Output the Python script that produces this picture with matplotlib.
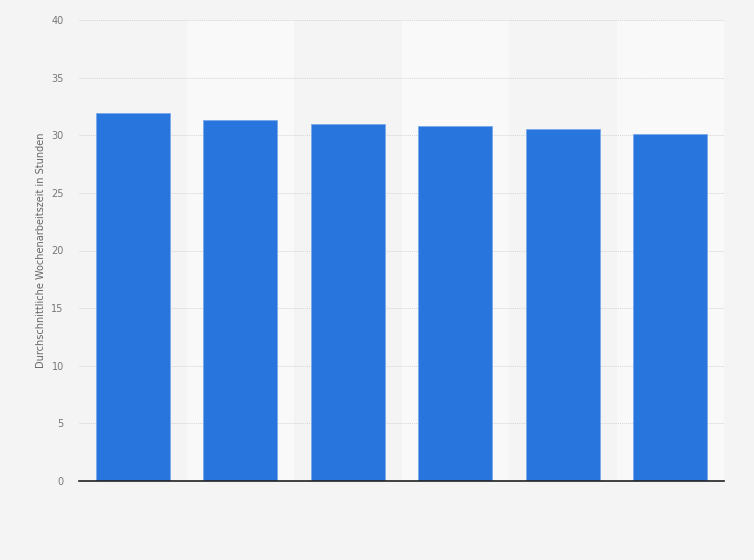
import matplotlib.pyplot as plt
import numpy as np

# Data (no category labels shown)
categories = ['1', '2', '3', '4', '5', '6']
hours = [31.9, 31.3, 31.0, 30.8, 30.5, 30.1]

BG = '#f4f4f4'
BAND = '#f9f9f9'
BAR = '#2876dd'

fig = plt.figure(figsize=(7.54, 5.6), dpi=100, facecolor=BG)
ax = fig.add_axes([79 / 754, 1 - 481 / 560, 645 / 754, 461 / 560])
ax.set_facecolor(BG)

x = np.arange(len(categories))

# Alternating column bands
for i in x:
    if i % 2 == 1:
        ax.axvspan(i - 0.5, i + 0.5, color=BAND, zorder=0, lw=0)

ax.bar(x, hours, width=0.69, color=BAR, edgecolor='#7aa9ea', linewidth=0.6, zorder=3)

ax.set_xlim(-0.5, len(categories) - 0.5)
ax.set_ylim(0, 40)
ax.set_yticks(np.arange(0, 41, 5))
ax.set_xticks([])

ax.grid(axis='y', linestyle=(0, (1, 1)), color='#d4d4d4', linewidth=0.7, zorder=1)
for side in ['top', 'right', 'left']:
    ax.spines[side].set_visible(False)
ax.spines['bottom'].set_color('#222222')
ax.spines['bottom'].set_linewidth(1.2)
ax.spines['bottom'].set_zorder(4)

ax.tick_params(axis='y', length=0, pad=11, labelsize=7, labelcolor='#777777')
ax.set_ylabel('Durchschnittliche Wochenarbeitszeit in Stunden', fontsize=7,
              color='#666666', labelpad=4)

fig.savefig('out.png', dpi=100, facecolor=BG)
